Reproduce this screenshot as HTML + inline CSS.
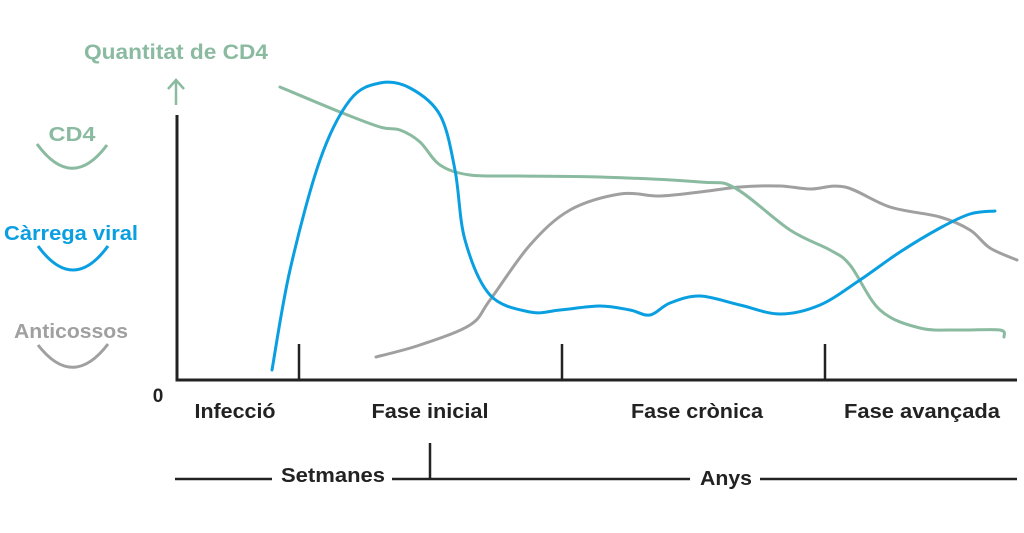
<!DOCTYPE html>
<html><head><meta charset="utf-8"><style>
html,body{margin:0;padding:0;background:#fff;width:1024px;height:533px;overflow:hidden}
svg{display:block}
text{font-family:"Liberation Sans",sans-serif;font-weight:bold}
</style></head><body>
<svg id="chart" width="1024" height="533" viewBox="0 0 1024 533">
<text x="176" y="59" text-anchor="middle" font-size="21" textLength="184" lengthAdjust="spacingAndGlyphs" fill="#8abba0">Quantitat de CD4</text>
<path d="M176 105 V80 M168 89 L176 80 L184 89" stroke="#8abba0" stroke-width="2.5" fill="none"/>
<path d="M177 115 V380 H1017" stroke="#222" stroke-width="3" fill="none"/>
<g stroke="#222" stroke-width="2.5">
<line x1="299" y1="344" x2="299" y2="380"/><line x1="562" y1="344" x2="562" y2="380"/><line x1="825" y1="344" x2="825" y2="380"/></g>
<text x="158" y="402" text-anchor="middle" font-size="19" fill="#222">0</text>
<g font-size="20" fill="#222" text-anchor="middle" lengthAdjust="spacingAndGlyphs">
<text x="235" y="418" textLength="81" lengthAdjust="spacingAndGlyphs">Infecció</text>
<text x="430" y="418" textLength="117" lengthAdjust="spacingAndGlyphs">Fase inicial</text>
<text x="697" y="418" textLength="132" lengthAdjust="spacingAndGlyphs">Fase crònica</text>
<text x="922" y="418" textLength="156" lengthAdjust="spacingAndGlyphs">Fase avançada</text>
<text x="333" y="482" textLength="104" lengthAdjust="spacingAndGlyphs">Setmanes</text>
<text x="726" y="485" textLength="52" lengthAdjust="spacingAndGlyphs">Anys</text></g>
<g stroke="#222" stroke-width="2.5">
<line x1="175" y1="479" x2="272" y2="479"/><line x1="392" y1="479" x2="690" y2="479"/><line x1="760" y1="479" x2="1017" y2="479"/><line x1="430" y1="443" x2="430" y2="479"/></g>
<text x="72" y="141" text-anchor="middle" font-size="20" textLength="47" lengthAdjust="spacingAndGlyphs" fill="#8abba0">CD4</text>
<path d="M37 144 Q72 192 107 145" stroke="#8abba0" stroke-width="3" fill="none"/>
<text x="71" y="240" text-anchor="middle" font-size="20" textLength="134" lengthAdjust="spacingAndGlyphs" fill="#0a9fe0">Càrrega viral</text>
<path d="M38 246 Q73 294 108 246" stroke="#0a9fe0" stroke-width="3" fill="none"/>
<text x="71" y="338" text-anchor="middle" font-size="20" textLength="114" lengthAdjust="spacingAndGlyphs" fill="#a0a0a0">Anticossos</text>
<path d="M38 345 Q73 390 108 344" stroke="#a0a0a0" stroke-width="3" fill="none"/>
<g id="series"></g>
</svg>
<script>
const cd4X=[103,163,203,223,243,263,293,343,423,523,558,613,653,673,703,743,783,823,827];
const cd4Y=[293,268,253,250,238,215,205,204,203,198,192,150,130,115,70,52,50,50,43];
const viralX=[95,113,143,173,203,233,263,278,288,313,353,383,423,453,473,493,523,563,603,643,683,723,763,793,818];
const viralY=[10,110,220,280,297,292,265,210,140,85,68,70,74,70,65,77,84,75,66,75,100,128,152,166,169];
const abX=[199,243,293,313,353,393,443,483,523,563,603,633,668,713,763,793,813,840];
const abY=[23,35,55,80,135,170,186,184,188,193,194,191,193,173,163,150,132,120];
function sx(v){return 177+v;}
function sy(v){return 380-v;}
function pathFor(xs,ys){
  const p=xs.map((x,i)=>[sx(x),sy(ys[i])]);
  let d='M'+p[0][0]+' '+p[0][1];
  for(let i=0;i<p.length-1;i++){
    const p0=p[i-1]||p[i],p1=p[i],p2=p[i+1],p3=p[i+2]||p2;
    const c1=[p1[0]+(p2[0]-p0[0])/6,p1[1]+(p2[1]-p0[1])/6];
    const c2=[p2[0]-(p3[0]-p1[0])/6,p2[1]-(p3[1]-p1[1])/6];
    d+=' C'+c1[0]+' '+c1[1]+' '+c2[0]+' '+c2[1]+' '+p2[0]+' '+p2[1];
  }
  return d;
}
const g=document.getElementById('series');
function draw(xs,ys,color,name){
  const el=document.createElementNS('http://www.w3.org/2000/svg','path');
  el.setAttribute('d',pathFor(xs,ys));
  el.setAttribute('fill','none');
  el.setAttribute('stroke',color);
  el.setAttribute('stroke-width','3');
  el.setAttribute('stroke-linecap','round');
  
  
  g.appendChild(el);
}
draw(abX,abY,'#a0a0a0','antibodies-line');
draw(cd4X,cd4Y,'#8abba0','cd4-line');
draw(viralX,viralY,'#0a9fe0','viral-load-line');
</script>
</body></html>
